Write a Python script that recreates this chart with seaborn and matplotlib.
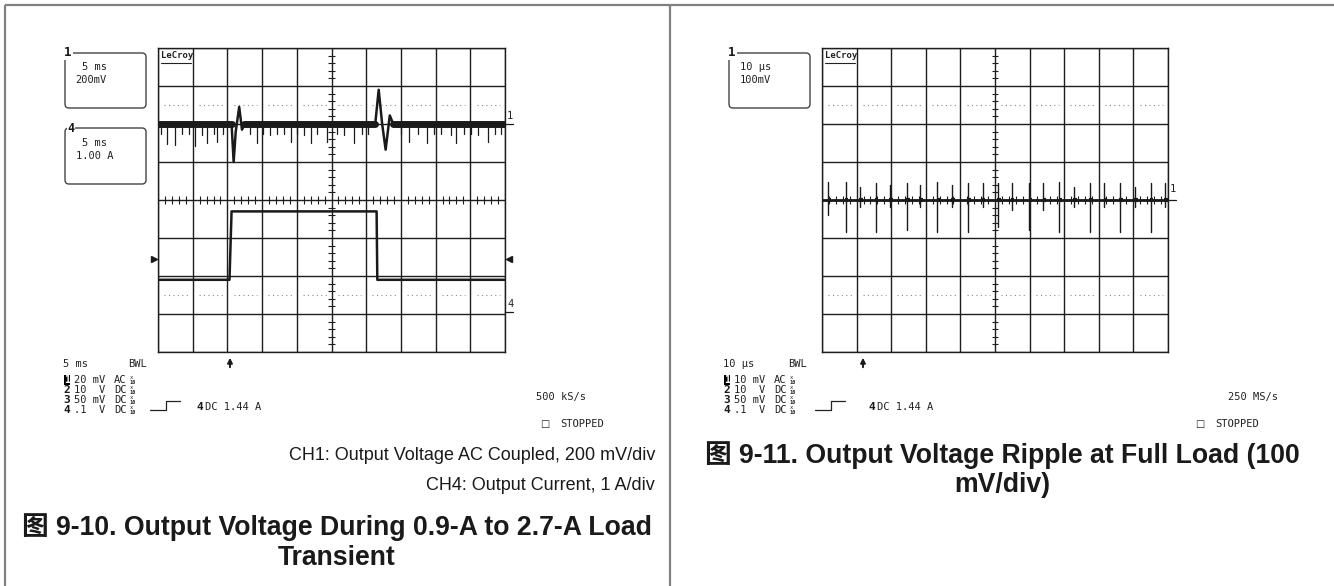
import numpy as np
import pandas as pd
import matplotlib
matplotlib.use("Agg")
import matplotlib.pyplot as plt
import seaborn as sns
from matplotlib.patches import FancyBboxPatch

# ---- figure 9-10: load transient, 5 ms/div ----
ch1_time_ms = [0, 10.6, 10.9, 11.2, 11.7, 12.1, 12.5, 31.3, 31.8, 32.3, 32.8, 33.4, 33.9, 50]
ch1_mv = [0, 0, -200, -40, 90, -30, 0, 0, 180, 0, -135, 45, 0, 0]
ch1_band_start_ms = [0, 12.4, 33.9]
ch1_band_end_ms = [10.6, 31.3, 50]
ch1_spike_ms = [0.5, 1.35, 2.45, 3.4, 4.4, 5.4, 6.3, 7.0, 8.0, 8.5, 9.4,
                13.3, 14.3, 15.2, 16.2, 17.2, 18.1, 19.1, 20.0, 21.0, 22.0, 22.9, 24.4,
                25.8, 26.8, 28.2, 29.4, 30.2,
                35.0, 36.2, 37.4, 38.8, 39.8, 40.8, 42.2, 42.9, 44.1, 45.1, 46.1, 47.5, 48.5, 49.4]
ch1_spike_mv = [-50, -105, -110, -55, -50, -115, -60, -100, -55, -95, -50,
                -55, -100, -50, -60, -55, -50, -95, -55, -60, -100, -50, -95,
                -55, -60, -100, -50, -55,
                -55, -95, -50, -100, -55, -50, -60, -100, -55, -50, -60, -95, -50, -55]
ch4_time_ms = [0, 10.3, 10.6, 31.5, 31.6, 50]
ch4_amps = [0.9, 0.9, 2.7, 2.7, 0.9, 0.9]

# ---- figure 9-11: ripple at full load, 10 us/div ----
rip_spike_us = [1.8, 6.8, 11.0, 15.5, 19.7, 24.5, 28.3, 33.3, 37.5, 42.3, 46.4, 50.8,
                54.8, 59.9, 64.0, 68.6, 72.8, 77.5, 81.6, 86.1, 90.5, 95.0, 99.1]
rip_spike_hi_mv = [48, 48, 35, 44, 40, 44, 40, 48, 40, 44, 44, 44,
                   44, 44, 44, 48, 35, 44, 44, 44, 35, 44, 44]
rip_spike_lo_mv = [-40, -84, -18, -84, -18, -80, -18, -84, -18, -84, -18, -70,
                   -26, -80, -26, -84, -18, -84, -18, -84, -18, -84, -18]

# scope readout labels
left_rows = ["20 mV", "10  V", "50 mV", ".1  V"]
right_rows = ["10 mV", "10  V", "50 mV", ".1  V"]
couplings = ["AC", "DC", "DC", "DC"]

sns.set_theme(style="white")
plt.rcParams['font.family'] = ['Liberation Sans', 'Noto Sans CJK SC', 'DejaVu Sans']

W, H = 1334, 586
fig = plt.figure(figsize=(W / 100, H / 100), dpi=100)


def rect(x0, y0, x1, y1):
    return [x0 / W, 1 - y1 / H, (x1 - x0) / W, (y1 - y0) / H]


GRID = '#1e1e1e'


def scope(r, xmax):
    ax = fig.add_axes(r)
    ax.set_facecolor('white')
    dx = xmax / 10
    # center graticule ticks
    minor = [v for v in np.arange(-4, 4.01, 0.2) if abs(v - round(v)) > 1e-6]
    ax.hlines(minor, xmax / 2 - 0.1 * dx, xmax / 2 + 0.1 * dx, color=GRID, lw=0.8)
    minor_x = [v * dx for v in np.arange(0, 10.01, 0.2) if abs(v - round(v)) > 1e-6]
    ax.vlines(minor_x, -0.1, 0.1, color=GRID, lw=0.8)
    for i in range(10):
        ax.hlines([2.5, -2.5], (i + 0.18) * dx, (i + 0.86) * dx, colors='#8a8a8a',
                  linestyles=(0, (1, 3)), lw=0.8)
    return ax


def finish(ax, xmax):
    ax.set_xlim(0, xmax)
    ax.set_ylim(-4, 4)
    ax.set_xticks(np.linspace(0, xmax, 11))
    ax.set_yticks(np.arange(-4, 5))
    ax.grid(True, color=GRID, lw=1.0)
    ax.tick_params(length=0, labelbottom=False, labelleft=False)
    for s in ax.spines.values():
        s.set_color(GRID)
        s.set_linewidth(1.0)
    ax.set_xlabel('')
    ax.set_ylabel('')


# ---------- left scope ----------
axl = scope(rect(158, 48, 505, 352), 50)
band = pd.DataFrame({
    'seg': np.repeat(np.arange(len(ch1_band_start_ms)), 2),
    't': np.ravel(list(zip(ch1_band_start_ms, ch1_band_end_ms))),
    'div': 2.0,
})
sns.lineplot(data=band, x='t', y='div', units='seg', estimator=None, color='k',
             lw=5.0, ax=axl, legend=False)
sns.lineplot(x=ch1_time_ms, y=np.array(ch1_mv) / 200 + 2.0, sort=False, estimator=None,
             color='k', lw=1.8, ax=axl)
spk = pd.DataFrame({
    'id': np.repeat(np.arange(len(ch1_spike_ms)), 2),
    't': np.repeat(ch1_spike_ms, 2),
    'div': np.ravel([[2.05, m / 200 + 2.0] for m in ch1_spike_mv]),
})
sns.lineplot(data=spk, x='t', y='div', units='id', estimator=None, color='k', lw=0.9,
             ax=axl, legend=False)
sns.lineplot(x=ch4_time_ms, y=np.array(ch4_amps) - 3.0, sort=False, estimator=None,
             color='k', lw=1.8, ax=axl)
finish(axl, 50)

# ---------- right scope ----------
axr = scope(rect(822, 48, 1168, 352), 100)
sns.lineplot(x=[0, 100], y=[0, 0], color='k', lw=2.0, ax=axr)
rspk = pd.DataFrame({
    'id': np.repeat(np.arange(len(rip_spike_us)), 2),
    't': np.repeat(rip_spike_us, 2),
    'div': np.ravel([[h / 100, l / 100] for h, l in zip(rip_spike_hi_mv, rip_spike_lo_mv)]),
})
sns.lineplot(data=rspk, x='t', y='div', units='id', estimator=None, color='k', lw=1.0,
             ax=axr, legend=False)
burst = pd.DataFrame({
    'id': np.repeat(np.arange(len(rip_spike_us)), 2),
    't': np.ravel([[t - 0.2, t + 0.8] for t in rip_spike_us]),
    'div': 0.0,
})
sns.lineplot(data=burst, x='t', y='div', units='id', estimator=None, color='k', lw=3.0,
             ax=axr, legend=False, solid_capstyle='butt')
finish(axr, 100)

# ---------- overlay: table, readouts, captions ----------
ov = fig.add_axes([0, 0, 1, 1])
ov.set_xlim(0, W)
ov.set_ylim(H, 0)
ov.axis('off')
ov.patch.set_alpha(0)

border = '#808080'
ov.plot([4.5, W], [4.5, 4.5], color=border, lw=1.6, solid_capstyle='butt')
ov.plot([4.5, 4.5], [4.5, H], color=border, lw=1.6, solid_capstyle='butt')
ov.plot([670, 670], [4.5, H], color=border, lw=1.6, solid_capstyle='butt')

mono = dict(family='DejaVu Sans Mono', fontsize=7.5, color='#222222', va='center')


def box(x, y, w, h):
    ov.add_patch(FancyBboxPatch((x, y), w, h, boxstyle='round,pad=0,rounding_size=4',
                                fill=False, ec='#444444', lw=1.0))


# left boxes
box(65, 53, 81, 55)
ov.text(68, 53, '1', ha='center', weight='bold', fontsize=9, family='DejaVu Sans Mono',
        color='k', va='center', bbox=dict(fc='white', ec='none', pad=0.5))
ov.text(82, 67, '5 ms', **mono)
ov.text(75, 80, '200mV', **mono)
box(65, 128, 81, 56)
ov.text(71, 129, '4', ha='center', weight='bold', fontsize=8.5, family='DejaVu Sans Mono',
        color='k', va='center', bbox=dict(fc='white', ec='none', pad=0.5))
ov.text(82, 143, '5 ms', **mono)
ov.text(76, 156, '1.00 A', **mono)

# right box
box(729, 53, 81, 55)
ov.text(732, 53, '1', ha='center', weight='bold', fontsize=9, family='DejaVu Sans Mono',
        color='k', va='center', bbox=dict(fc='white', ec='none', pad=0.5))
ov.text(740, 67, '10 μs', **mono)
ov.text(740, 80, '100mV', **mono)

# LeCroy logos
for gx in (158, 822):
    ov.text(gx + 3, 56, 'LeCroy', family='DejaVu Sans Mono', weight='bold', fontsize=6.5,
            color='#222222', va='center')
    ov.plot([gx + 3, gx + 33], [62.5, 62.5], color='#222222', lw=0.8)

# channel markers at the right edge
ov.text(507, 116, '1', **mono)
ov.plot([505, 513], [124, 124], color='k', lw=0.9)
ov.text(507, 304, '4', **mono)
ov.plot([505, 513], [312, 312], color='k', lw=0.9)
ov.plot([154], [259], marker='>', ms=4, color='k')
ov.plot([509], [259], marker='<', ms=4, color='k')
ov.text(1170, 189, '1', **mono)
ov.plot([1168, 1176], [200, 200], color='k', lw=0.9)


def readout(x0, tb, rows, trig_x, step_x, trig_txt_x, rate, rate_x, stop_x):
    ov.text(x0, 364, tb, **mono)
    ov.text(x0 + 65, 364, 'BWL', **mono)
    ys = [380, 390, 400, 410]
    for i, (val, cpl, y) in enumerate(zip(rows, couplings, ys)):
        if i == 0:
            ov.text(x0 + 1, y, '1', weight='bold', fontsize=7, family='DejaVu Sans Mono',
                    color='white', va='center',
                    bbox=dict(fc='black', ec='none', pad=0.2))
        else:
            ov.text(x0, y, str(i + 1), weight='bold', fontsize=8, family='DejaVu Sans Mono',
                    color='k', va='center')
        ov.text(x0 + 11, y, val, **mono)
        ov.text(x0 + 51, y, cpl, **mono)
        ov.text(x0 + 67, y - 2.5, 'x', family='DejaVu Sans Mono', fontsize=4,
                color='#222222', va='center')
        ov.text(x0 + 66, y + 2.5, '10', family='DejaVu Sans Mono', fontsize=3.8,
                color='#222222', va='center', weight='bold')
    ov.annotate('', xy=(trig_x, 355), xytext=(trig_x, 370),
                arrowprops=dict(arrowstyle='-|>', color='k', lw=1.4, mutation_scale=7))
    ov.plot([step_x, step_x + 16, step_x + 16, step_x + 30], [410, 410, 401, 401],
            color='#222222', lw=0.9)
    ov.text(trig_txt_x, 407, '4', weight='bold', fontsize=8, family='DejaVu Sans Mono',
            color='k', va='center')
    ov.text(trig_txt_x + 9, 407, 'DC 1.44 A', **mono)
    ov.text(rate_x, 397, rate, **mono)
    ov.text(stop_x, 424, '□', family='DejaVu Sans', fontsize=7, color='#222222', va='center')
    ov.text(stop_x + 20, 424, 'STOPPED', **mono)


readout(63, '5 ms', left_rows, 230, 150, 196, '500 kS/s', 536, 540)
readout(723, '10 μs', right_rows, 863, 815, 868, '250 MS/s', 1228, 1195)

# captions
ov.text(655, 455, 'CH1: Output Voltage AC Coupled, 200 mV/div', ha='right', va='center',
        fontsize=13, color='k')
ov.text(655, 485, 'CH4: Output Current, 1 A/div', ha='right', va='center',
        fontsize=13, color='k')
ov.text(337, 527, '图 9-10. Output Voltage During 0.9-A to 2.7-A Load', ha='center',
        va='center', fontsize=19.2, weight='bold', color='k')
ov.text(337, 558, 'Transient', ha='center', va='center', fontsize=19.2, weight='bold',
        color='k')
ov.text(1002, 455, '图 9-11. Output Voltage Ripple at Full Load (100', ha='center',
        va='center', fontsize=19.2, weight='bold', color='k')
ov.text(1002, 485, 'mV/div)', ha='center', va='center', fontsize=19.2, weight='bold',
        color='k')

fig.savefig('out.png', dpi=100)
